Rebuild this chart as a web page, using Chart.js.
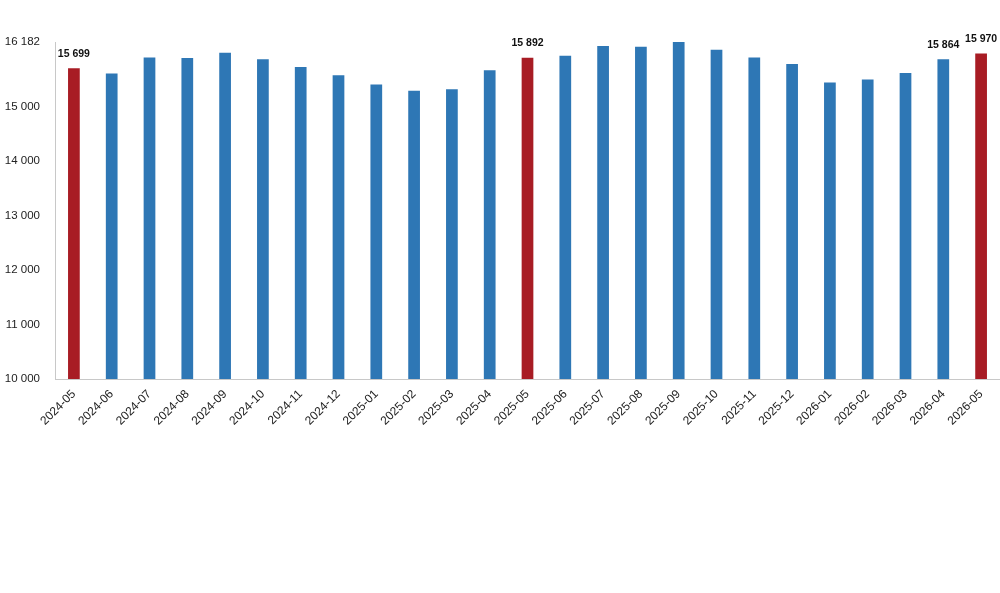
<!DOCTYPE html>
<html>
<head>
<meta charset="utf-8">
<script src="https://cdn.jsdelivr.net/npm/chart.js@4"></script>
<style>
  html, body { margin: 0; padding: 0; background: #fff; }
  #wrap { width: 1000px; height: 593px; position: relative; }
</style>
</head>
<body>
<div id="wrap"><canvas id="chart"></canvas></div>
<script>
// months shown on the x axis
const months = [
    '2024-05', '2024-06', '2024-07', '2024-08', '2024-09', '2024-10', '2024-11', '2024-12',
    '2025-01', '2025-02', '2025-03', '2025-04', '2025-05', '2025-06', '2025-07', '2025-08',
    '2025-09', '2025-10', '2025-11', '2025-12', '2026-01', '2026-02', '2026-03', '2026-04',
    '2026-05'
]

// values (labelled ones are exact)
const values = [
    15699, 15606, 15896, 15890, 15984, 15866, 15723, 15574,
    15401, 15290, 15314, 15662, 15892, 15928, 16108, 16095,
    16182, 16039, 15896, 15779, 15439, 15494, 15612, 15864,
    15970
]

// months drawn in red
const highlighted = ['2024-05', '2025-05', '2026-05']
// months with a value label above the bar
const labelled = ['2024-05', '2025-05', '2026-04', '2026-05']

const yTicks = [10000, 11000, 12000, 13000, 14000, 15000, 16182]

const fmt = (v) => String(v).replace(/\B(?=(\d{3})+(?!\d))/g, ' ')

const colors = months.map((m) => highlighted.includes(m) ? '#a81c24' : '#2e77b5')

// value labels over chosen bars
const valueLabels = {
    id: 'valueLabels',
    afterDatasetsDraw(chart) {
        const ctx = chart.ctx
        const meta = chart.getDatasetMeta(0)
        ctx.save()
        ctx.font = 'bold 10.5px "Liberation Sans", Arial, sans-serif'
        ctx.fillStyle = '#111'
        ctx.textAlign = 'center'
        ctx.textBaseline = 'bottom'
        meta.data.forEach((bar, i) => {
            if (!labelled.includes(months[i])) return
            ctx.fillText(fmt(values[i]), bar.x, bar.y - 9)
        })
        ctx.restore()
    }
}

const ctx = document.getElementById('chart').getContext('2d')

new Chart(ctx, {
    type: 'bar',
    data: {
        labels: months,
        datasets: [{
            data: values,
            backgroundColor: colors,
            borderWidth: 0,
            barPercentage: 0.62,
            categoryPercentage: 0.5,
        }]
    },
    options: {
        responsive: true,
        maintainAspectRatio: false,
        animation: false,
        layout: { padding: { top: 42, right: 0, left: 0, bottom: 0 } },
        plugins: {
            legend: { display: false },
            tooltip: { enabled: false },
        },
        scales: {
            x: {
                grid: { drawOnChartArea: false, drawTicks: false },
                border: { display: true, color: '#c8c8c8', width: 1 },
                ticks: {
                    color: '#222',
                    font: { family: '"Liberation Sans", Arial, sans-serif', size: 12 },
                    maxRotation: 45,
                    minRotation: 45,
                    autoSkip: false,
                    padding: 8,
                },
                afterFit(scale) { scale.height = 214 },
            },
            y: {
                min: 10000,
                max: 16182,
                grid: { drawOnChartArea: false, drawTicks: false },
                border: { display: true, color: '#c8c8c8', width: 1 },
                afterBuildTicks(scale) {
                    scale.ticks = yTicks.map((v) => ({ value: v }))
                },
                ticks: {
                    color: '#222',
                    font: { family: '"Liberation Sans", Arial, sans-serif', size: 11.5 },
                    padding: 15,
                    callback: (v) => fmt(v),
                },
                afterFit(scale) { scale.width = 55 },
            },
        },
    },
    plugins: [valueLabels],
})
</script>
</body>
</html>
